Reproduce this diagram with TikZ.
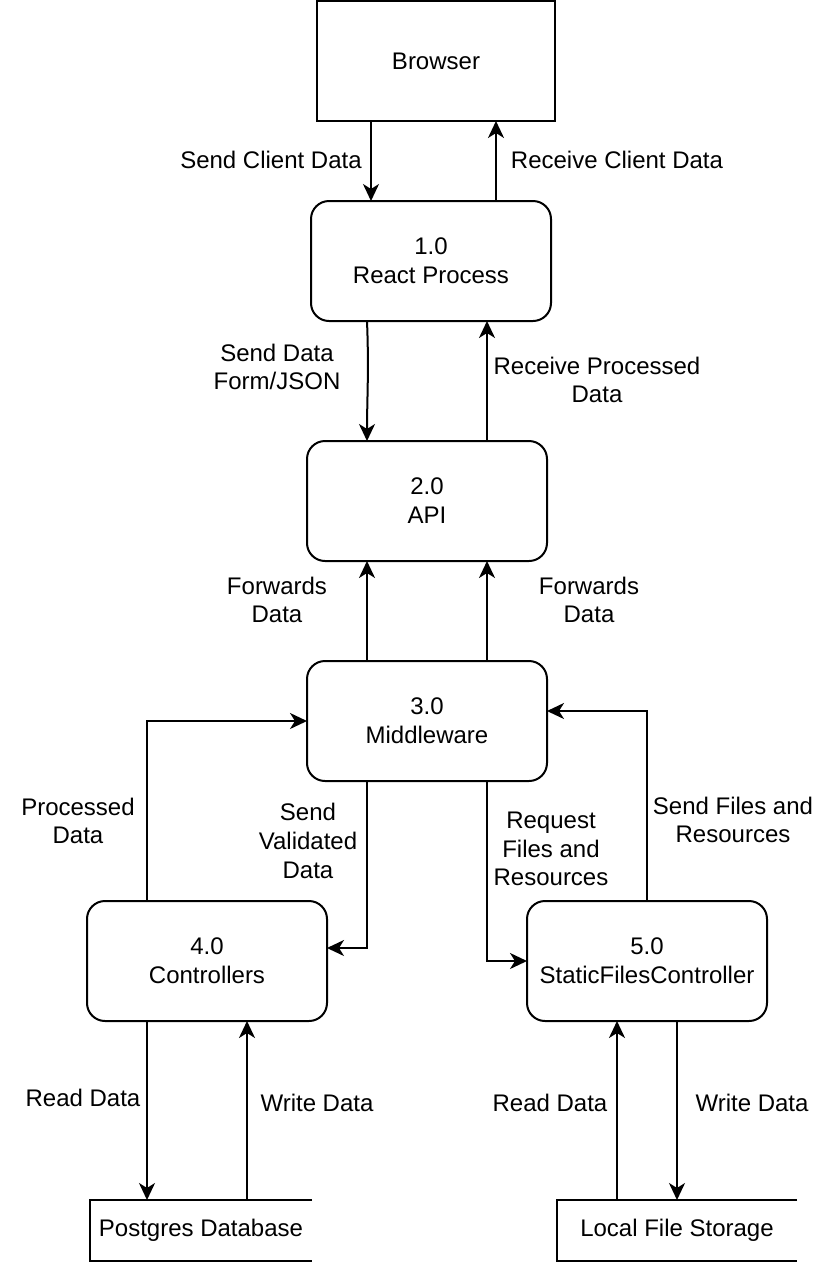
\documentclass[tikz,border=0pt]{standalone}
\usepackage{fontspec}
\setmainfont{Liberation Sans}
\usetikzlibrary{arrows.meta}

\tikzset{
  proc/.style={draw, line width=2pt, rounded corners=18pt, minimum width=240pt,
    minimum height=120pt, outer sep=0pt, align=center},
  ext/.style={draw, line width=2pt, minimum width=238pt, minimum height=120pt, outer sep=0pt},
  store/.style={minimum height=61pt, outer sep=0pt, inner sep=0pt},
  flow/.style={line width=2pt, -{Stealth[length=17pt,width=16pt,inset=5pt]}},
  lbl/.style={align=center, inner sep=0pt},
}

\begin{document}
\begin{tikzpicture}[x=1pt, y=-1pt, font=\fontsize{24}{28.8}\selectfont]
            \useasboundingbox (0,0) rectangle (832,1262);

            % processes
            \node [ext]  (browser) at (436,61)  {Browser};
            \node [proc] (react)   at (431,261) {1.0\\React Process};
            \node [proc] (api)     at (427,501) {2.0\\API};
            \node [proc] (mw)      at (427,721) {3.0\\Middleware};
            \node [proc] (ctrl)    at (207,961) {4.0\\Controllers};
            \node [proc] (static)  at (647,961) {5.0\\StaticFilesController};

            % data stores
            \node [store, minimum width=222pt] (pg)    at (201,1230.5) {Postgres Database};
            \node [store, minimum width=240pt] (local) at (677,1230.5) {Local File Storage};
            \draw [line width=2pt] (pg.north east) -- (pg.north west) -- (pg.south west) -- (pg.south east);
            \draw [line width=2pt] (local.north east) -- (local.north west) -- (local.south west) -- (local.south east);

            % browser <-> react
            \draw [flow] ([xshift=-65pt]browser.south) -- ([xshift=-60pt]react.north);
            \draw [flow] ([xshift=65pt]react.north) -- ([xshift=60pt]browser.south);
            \node [lbl] (l1) at (271,160) {Send Client Data};
            \node [lbl] (l2) at (617,160) {Receive Client Data};

            % react <-> api
            \draw [flow] ([xshift=-64pt]react.south) .. controls (369,370) and (367,400) .. ([xshift=-60pt]api.north);
            \draw [flow] ([xshift=60pt]api.north) -- ([xshift=56pt]react.south);
            \node [lbl] (l3) at (277,367) {Send Data\\Form/JSON};
            \node [lbl] (l4) at (597,380) {Receive Processed\\Data};

            % middleware -> api
            \draw [flow] ([xshift=-60pt]mw.north) -- ([xshift=-60pt]api.south);
            \draw [flow] ([xshift=60pt]mw.north) -- ([xshift=60pt]api.south);
            \node [lbl] (l5) at (277,600) {Forwards\\Data};
            \node [lbl] (l6) at (589,600) {Forwards\\Data};

            % middleware <-> controllers
            \draw [flow] ([xshift=-60pt]ctrl.north) |- (mw.west);
            \draw [flow] ([xshift=-60pt]mw.south) |- ([yshift=13pt]ctrl.east);
            \node [lbl] (l7) at (78,821) {Processed\\Data};
            \node [lbl] (l8) at (308,841) {Send\\Validated\\Data};

            % middleware <-> static files
            \draw [flow] ([xshift=60pt]mw.south) |- (static.west);
            \draw [flow] (static.north) |- ([yshift=10pt]mw.east);
            \node [lbl] (l9)  at (551,849) {Request\\Files and\\Resources};
            \node [lbl] (l10) at (733,820) {Send Files and\\Resources};

            % controllers <-> postgres
            \draw [flow] ([xshift=-60pt]ctrl.south) -- ([xshift=-54pt]pg.north);
            \draw [flow] ([xshift=46pt]pg.north) -- ([xshift=40pt]ctrl.south);
            \node [lbl] (l11) at (83,1098)  {Read Data};
            \node [lbl] (l12) at (317,1103) {Write Data};

            % static files <-> local storage
            \draw [flow] ([xshift=-60pt]local.north) -- ([xshift=-30pt]static.south);
            \draw [flow] ([xshift=30pt]static.south) -- (local.north);
            \node [lbl] (l13) at (550,1103) {Read Data};
            \node [lbl] (l14) at (752,1103) {Write Data};
        \end{tikzpicture}
\end{document}
